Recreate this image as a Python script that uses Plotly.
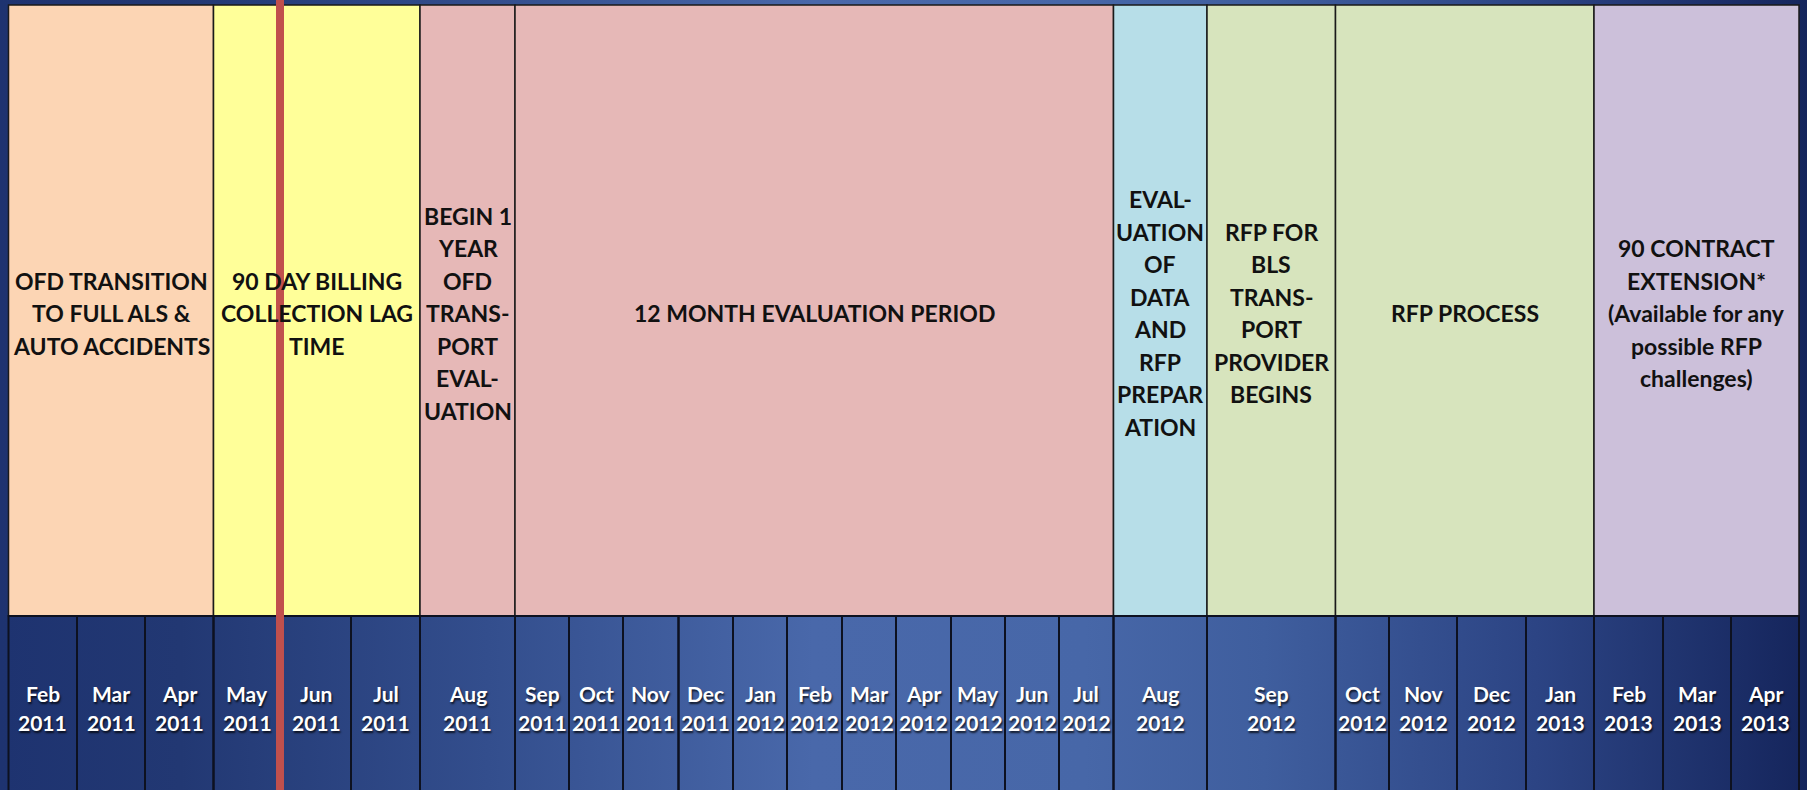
import plotly.graph_objects as go

# ---------------- data ----------------
month_names = ["Feb", "Mar", "Apr", "May", "Jun", "Jul", "Aug", "Sep", "Oct", "Nov",
               "Dec", "Jan", "Feb", "Mar", "Apr", "May", "Jun", "Jul", "Aug", "Sep",
               "Oct", "Nov", "Dec", "Jan", "Feb", "Mar", "Apr"]
month_years = ["2011", "2011", "2011", "2011", "2011", "2011", "2011", "2011", "2011", "2011",
               "2011", "2012", "2012", "2012", "2012", "2012", "2012", "2012", "2012", "2012",
               "2012", "2012", "2012", "2013", "2013", "2013", "2013"]

phase_labels = [
    ["OFD TRANSITION", "TO FULL ALS &amp;", "AUTO ACCIDENTS"],
    ["90 DAY BILLING", "COLLECTION LAG", "TIME"],
    ["BEGIN 1", "YEAR", "OFD", "TRANS-", "PORT", "EVAL-", "UATION"],
    ["12 MONTH EVALUATION PERIOD"],
    ["EVAL-", "UATION", "OF", "DATA", "AND", "RFP", "PREPAR", "ATION"],
    ["RFP FOR", "BLS", "TRANS-", "PORT", "PROVIDER", "BEGINS"],
    ["RFP PROCESS"],
    ["90 CONTRACT", "EXTENSION*", "(Available for any", "possible RFP", "challenges)"],
]
phase_months = [3, 3, 1, 11, 1, 1, 4, 3]   # number of months covered by each phase
current_month = "Jun 2011"                 # red "today" marker (start of this month)

# ---------------- layout / style ----------------
W, H = 1807, 790
phase_colors = ["#FCD5B4", "#FFFF99", "#E6B8B7", "#E6B8B7", "#B7DEE8", "#D7E4BD", "#D7E4BD", "#CCC0DA"]
col_widths = [68.5, 68, 68.5, 67.5, 70, 69, 95, 54, 54, 55.5, 54.5, 54, 55, 54, 55, 54, 54,
              54.5, 93.5, 128.5, 53.5, 68, 69, 68, 69, 68, 68]
table_left = 8.5
table_top = 5
band_split = 616
top_text_center = 313
top_line_gap = 32.5
bottom_text_center = 708
bottom_line_gap = 28.5
FONT = "Lato"

edges = [table_left]
for w in col_widths:
    edges.append(edges[-1] + w)

fig = go.Figure()

# background gradient
bg_scale = [[0.0, "#1E3370"], [0.1, "#223873"], [0.27, "#334E8D"], [0.45, "#4968AA"],
            [0.6, "#4767A8"], [0.7, "#3F5E9E"], [0.85, "#2C4484"], [1.0, "#15255C"]]
fig.add_trace(go.Scatter(
    x=[0, W, W, 0, 0], y=[0, 0, H, H, 0], fill="toself", mode="none",
    fillgradient=dict(type="horizontal", colorscale=bg_scale, start=0, stop=W),
    hoverinfo="skip", showlegend=False))

shapes = []
annotations = []


def add_lines(lines, xc, yc, gap, font):
    n = len(lines)
    for k, line in enumerate(lines):
        annotations.append(dict(x=xc, y=yc + (k - (n - 1) / 2) * gap, xref="x", yref="y",
                                text="<b>" + line + "</b>", showarrow=False,
                                xanchor="center", yanchor="middle", align="center", font=font))


# phase cells (top band)
idx = 0
for lines, n, color in zip(phase_labels, phase_months, phase_colors):
    x0, x1 = edges[idx], edges[idx + n]
    shapes.append(dict(type="rect", xref="x", yref="y", x0=x0, x1=x1, y0=table_top, y1=band_split,
                       fillcolor=color, line=dict(color="#1a1a1a", width=1.5), layer="above"))
    add_lines(lines, (x0 + x1) / 2, top_text_center, top_line_gap,
              dict(family=FONT, size=23, color="#111111"))
    idx += n

# month cells (bottom band)
for i, (m, yr) in enumerate(zip(month_names, month_years)):
    x0, x1 = edges[i], edges[i + 1]
    shapes.append(dict(type="rect", xref="x", yref="y", x0=x0, x1=x1, y0=band_split, y1=H + 5,
                       fillcolor="rgba(0,0,0,0)", line=dict(color="#0d1120", width=2), layer="above"))
    add_lines([m, yr], (x0 + x1) / 2, bottom_text_center, bottom_line_gap,
              dict(family=FONT, size=21, color="#FFFFFF", shadow="1px 2px 2px rgba(0,0,0,0.75)"))

# red current-month marker
mi = [f"{m} {y}" for m, y in zip(month_names, month_years)].index(current_month)
mx = edges[mi] - 1
shapes.append(dict(type="line", xref="x", yref="y", x0=mx, x1=mx, y0=0, y1=H,
                   line=dict(color="#C0504D", width=8), layer="above"))

fig.update_layout(
    width=W, height=H, margin=dict(l=0, r=0, t=0, b=0),
    paper_bgcolor="#1E3370", plot_bgcolor="#1E3370",
    shapes=shapes, annotations=annotations, showlegend=False,
    xaxis=dict(range=[0, W], visible=False, fixedrange=True),
    yaxis=dict(range=[H, 0], visible=False, fixedrange=True),
)

fig.write_html("out.html", config={"displayModeBar": False},
               post_script="document.body.style.margin='0';document.body.style.overflow='hidden';")
